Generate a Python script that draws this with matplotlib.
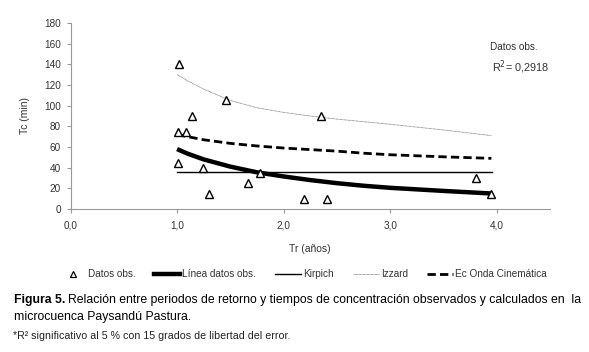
import matplotlib.pyplot as plt
from matplotlib.lines import Line2D

plt.rcParams['font.family'] = ['Liberation Sans', 'DejaVu Sans']

# observed points
tr_obs = [1.02, 1.01, 1.08, 1.01, 1.14, 1.46, 1.24, 1.30, 1.67, 1.78,
          2.19, 2.41, 2.35, 3.81, 3.95]
tc_obs = [140, 75, 75, 45, 90, 105, 40, 15, 25, 35, 10, 10, 90, 30, 15]

# curves
tr_curve = [1.0, 1.1, 1.25, 1.5, 1.75, 2.0, 2.25, 2.5, 2.75, 3.0, 3.5, 3.95]
tc_linea = [58, 53.5, 48, 41, 35.5, 31.5, 28, 25, 22.5, 20.5, 17.5, 15]
tc_izzard = [130, 124, 116, 105, 98, 93.5, 90, 87, 84.5, 82, 76.5, 71]
tc_onda = [72, 70, 67, 63.5, 61, 59, 57.5, 56, 54, 52.5, 50.5, 49]
tr_kirpich = [1.0, 3.96]
tc_kirpich = [36, 36]

xticks = [0, 1, 2, 3, 4]
xtick_labels = ['0,0', '1,0', '2,0', '3,0', '4,0']
yticks = list(range(0, 181, 20))

fig = plt.figure(figsize=(5.89, 3.52), dpi=100)
ax = fig.add_axes([70.5 / 589, 143 / 352, 479.5 / 589, 186 / 352])

ax.plot(tr_curve, tc_izzard, color='#777777', lw=0.6, ls=(0, (1, 0.6)))
ax.plot(tr_kirpich, tc_kirpich, color='black', lw=1.0)
ax.plot(tr_curve, tc_onda, color='black', lw=2.0, ls=(0, (3, 1.5)))
ax.plot(tr_curve, tc_linea, color='black', lw=3.2, solid_capstyle='butt')
ax.plot(tr_obs, tc_obs, ls='none', marker='^', ms=5.5, mfc='white',
        mec='black', mew=1.0)

ax.set_xlim(0, 4.5)
ax.set_ylim(0, 180)
ax.set_xticks(xticks)
ax.set_xticklabels(xtick_labels)
ax.set_yticks(yticks)
for s in ['top', 'right']:
    ax.spines[s].set_visible(False)
for s in ['left', 'bottom']:
    ax.spines[s].set_color('#999999')
    ax.spines[s].set_linewidth(0.8)
ax.tick_params(axis='both', colors='#999999', labelcolor='#333333',
               labelsize=7.2, length=3, width=0.8)
ax.tick_params(axis='y', pad=4)
ax.tick_params(axis='x', pad=5)

ax.set_ylabel('Tc (min)', fontsize=7.5, color='#333333', labelpad=10)
ax.set_xlabel('Tr (años)', fontsize=7.5, color='#333333', labelpad=10)

fig.text(490 / 589, 1 - 47 / 352, 'Datos obs.', fontsize=7.2,
         color='#333333', va='center')
fig.text(492 / 589, 1 - 67 / 352, 'R$^{2}$= 0,2918', fontsize=7.8,
         color='#333333', va='center')

handles = [
    Line2D([], [], ls='none', marker='^', ms=4.5, mfc='white', mec='black', mew=0.9),
    Line2D([], [], color='black', lw=3.2),
    Line2D([], [], color='black', lw=1.0),
    Line2D([], [], color='#777777', lw=0.6, ls=(0, (1, 0.6))),
    Line2D([], [], color='black', lw=2.0, ls=(0, (3, 1.5))),
]
labels = ['Datos obs.', 'Línea datos obs.', 'Kirpich', 'Izzard', 'Ec Onda Cinemática']
fig.legend(handles, labels, loc='center', bbox_to_anchor=(303 / 589, 1 - 274 / 352),
           ncol=5, frameon=False, fontsize=7.2, handlelength=2.6,
           handletextpad=0.2, columnspacing=1.9, labelcolor='#333333')

# caption, sized so it fills the same width as in the original
renderer = fig.canvas.get_renderer()
cap_fs = 9.5
t1 = fig.text(14 / 589, 1 - 300 / 352, 'Figura 5.', fontsize=cap_fs,
              fontweight='bold', va='center')
t2 = fig.text(0, 1 - 300 / 352,
              'Relación entre periodos de retorno y tiempos de concentración observados y calculados en  la',
              fontsize=cap_fs, va='center')
w = t1.get_window_extent(renderer).width + 3 + t2.get_window_extent(renderer).width
cap_fs = cap_fs * (578 - 14) / w
t1.set_fontsize(cap_fs)
t2.set_fontsize(cap_fs)
x2 = t1.get_window_extent(renderer).x1 + 3
t2.set_x(x2 / 589)
fig.text(14 / 589, 1 - 317 / 352, 'microcuenca Paysandú Pastura.', fontsize=cap_fs,
         va='center')

t3 = fig.text(13 / 589, 1 - 336 / 352,
              '*R² significativo al 5 % con 15 grados de libertad del error.',
              fontsize=6.5, va='center', color='#222222')
w3 = t3.get_window_extent(renderer).width
t3.set_fontsize(6.5 * (288 - 13) / w3)

fig.savefig('out.png', dpi=100)
